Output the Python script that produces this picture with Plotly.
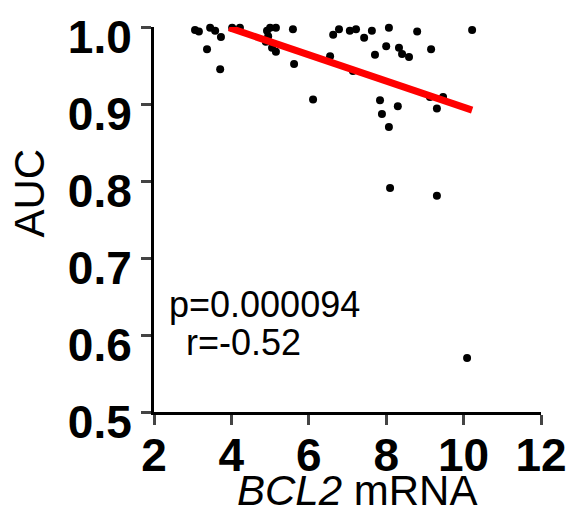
import plotly.graph_objects as go

bcl2_mrna = [3.06, 3.16, 3.45, 3.58, 3.73, 3.37, 3.71, 4.02, 4.22, 4.92, 5.00, 5.15,
             5.05, 5.15, 5.59, 5.62, 6.11, 6.55, 6.63, 6.78, 7.06, 7.22, 7.43, 7.63,
             8.07, 8.80, 10.22, 8.00, 7.71, 8.33, 8.41, 8.59, 9.16, 7.14, 7.84, 8.30,
             9.13, 9.47, 9.31, 7.89, 8.07, 8.10, 9.31, 10.09, 4.95, 4.89]
auc = [0.996, 0.994, 0.999, 0.995, 0.987, 0.971, 0.945, 0.999, 0.999, 0.995, 0.999, 0.999,
       0.973, 0.968, 0.997, 0.952, 0.906, 0.962, 0.990, 0.997, 0.995, 0.997, 0.986, 0.995,
       0.999, 0.994, 0.996, 0.975, 0.964, 0.973, 0.965, 0.961, 0.971, 0.943, 0.905, 0.897,
       0.909, 0.909, 0.894, 0.887, 0.870, 0.791, 0.781, 0.570, 0.988, 0.981]

fit_x = [3.94, 10.22]
fit_y = [0.999, 0.892]

x_ticks = [2, 4, 6, 8, 10, 12]
y_ticks = [0.5, 0.6, 0.7, 0.8, 0.9, 1.0]
y_tick_labels = ["0.5", "0.6", "0.7", "0.8", "0.9", "1.0"]

x_title = "<i>BCL2</i> mRNA"
y_title = "AUC"
p_text = "p=0.000094"
r_text = "r=-0.52"

fig = go.Figure()
fig.add_trace(go.Scatter(x=bcl2_mrna, y=auc, mode="markers",
                         marker=dict(color="black", size=8),
                         cliponaxis=False, showlegend=False))
fig.add_trace(go.Scatter(x=fit_x, y=fit_y, mode="lines",
                         line=dict(color="#ff0000", width=7),
                         cliponaxis=False, showlegend=False))

font_family = "Liberation Sans, Arial, sans-serif"
fig.update_layout(
    width=569, height=516,
    margin=dict(l=154, r=28, t=27, b=104),
    plot_bgcolor="white", paper_bgcolor="white",
    font=dict(family=font_family, color="black"),
    xaxis=dict(range=[2, 12], tickvals=x_ticks, ticks="outside", ticklen=10, tickwidth=3,
               showline=True, linewidth=3, linecolor="black", showgrid=False, zeroline=False,
               automargin=False, ticklabelstandoff=-9, ticklabeloverflow="allow",
               tickfont=dict(size=46, family=font_family, weight="bold")),
    yaxis=dict(range=[0.5, 1.0], tickvals=y_ticks, ticktext=y_tick_labels, ticks="outside",
               ticklen=10, tickwidth=3, automargin=False, ticklabeloverflow="allow",
               ticklabelshift=10,
               showline=True, linewidth=3, linecolor="black", showgrid=False, zeroline=False,
               tickfont=dict(size=46, family=font_family, weight="bold")),
    annotations=[
        dict(x=0.5245, y=-0.2026, xref="paper", yref="paper", text=x_title, showarrow=False,
             xanchor="center", yanchor="middle", font=dict(size=42)),
        dict(x=-0.3204, y=0.5675, xref="paper", yref="paper", text=y_title, showarrow=False,
             xanchor="center", yanchor="middle", textangle=-90, font=dict(size=42)),
        dict(x=2.34, y=0.640, xref="x", yref="y", text=p_text, showarrow=False,
             xanchor="left", yanchor="middle", font=dict(size=36)),
        dict(x=2.78, y=0.590, xref="x", yref="y", text=r_text, showarrow=False,
             xanchor="left", yanchor="middle", font=dict(size=36)),
    ],
)

fig.write_html("out.html", config={"displayModeBar": False},
               post_script="document.body.style.margin='0';")
